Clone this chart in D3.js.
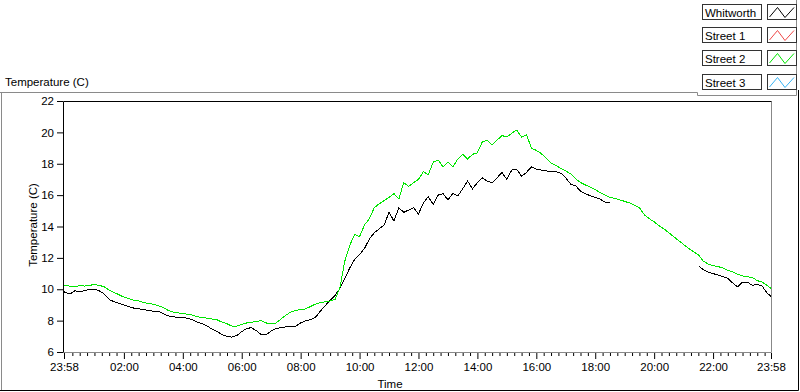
<!DOCTYPE html>
<html>
<head>
<meta charset="utf-8">
<script src="https://cdn.jsdelivr.net/npm/d3@7"></script>
<style>
body { margin: 0; background: #fff; }
svg { font-family: "Liberation Sans", Arial, sans-serif; font-size: 11.5px; }
</style>
</head>
<body>
<svg class="chart" width="800" height="392"></svg>
<script>
const seriesNames = ['Whitworth', 'Street 1', 'Street 2', 'Street 3'];
const seriesColors = ['#000000', '#f04848', '#00e600', '#38b4f4'];

const yTicks = [6, 8, 10, 12, 14, 16, 18, 20, 22];
const xTickLabels = ['23:58', '02:00', '04:00', '06:00', '08:00', '10:00', '12:00',
    '14:00', '16:00', '18:00', '20:00', '22:00', '23:58'];

// samples: 23:58 the day before, every 10 min from 00:00 to 23:50, then 23:58
const whitworth = [9.9,
    9.8, 9.7, 9.9, 9.85, 9.9, 10.0,
    10.0, 9.9, 9.7, 9.35, 9.2, 9.1,
    9.0, 8.9, 8.8, 8.75, 8.7, 8.65,
    8.6, 8.6, 8.45, 8.3, 8.25, 8.2,
    8.2, 8.15, 8.05, 7.9, 7.8, 7.65,
    7.45, 7.3, 7.1, 7.0, 6.95, 7.05,
    7.3, 7.5, 7.55, 7.35, 7.1, 7.1,
    7.35, 7.5, 7.55, 7.6, 7.6, 7.65,
    7.85, 8.0, 8.05, 8.2, 8.6, 8.95,
    9.3, 9.6, 10.05, 10.7, 11.35, 11.9,
    12.2, 12.6, 13.2, 13.6, 13.85, 14.1,
    14.9, 14.35, 15.2, 14.9, 15.05, 15.2,
    14.8, 15.5, 15.9, 15.4, 16.0, 16.1,
    15.7, 16.1, 15.95, 16.4, 16.9, 16.4,
    16.8, 17.1, 16.9, 16.8, 17.1, 17.45,
    17.0, 17.6, 17.65, 17.2, 17.45, 17.8,
    17.65, 17.6, 17.55, 17.5, 17.5, 17.4,
    17.1, 16.7, 16.6, 16.25, 16.1, 15.95,
    15.85, 15.75, 15.55, 15.5, null, null,
    null, null, null, null, null, null,
    null, null, null, null, null, null,
    null, null, null, 11.5, 11.25, 11.1,
    11.0, 10.9, 10.8, 10.7, 10.4, 10.15,
    10.45, 10.45, 10.25, 10.3, 10.2, 9.75,
    9.55];

const street1 = [];

const street2 = [10.25,
    10.25, 10.2, 10.15, 10.25, 10.2, 10.25,
    10.3, 10.25, 10.15, 9.95, 9.8, 9.65,
    9.5, 9.4, 9.3, 9.25, 9.15, 9.1,
    9.05, 8.95, 8.85, 8.65, 8.55, 8.5,
    8.45, 8.4, 8.35, 8.25, 8.2, 8.15,
    8.1, 8.05, 7.9, 7.8, 7.65, 7.65,
    7.75, 7.85, 7.9, 7.95, 8.0, 7.85,
    7.8, 7.85, 8.1, 8.35, 8.55, 8.65,
    8.7, 8.75, 8.9, 9.05, 9.15, 9.2,
    9.25, 9.35, 10.1, 11.8, 12.8, 13.5,
    13.35, 14.1, 14.5, 15.2, 15.45, 15.65,
    15.85, 16.1, 15.75, 16.8, 16.55, 16.8,
    17.0, 17.5, 17.3, 18.1, 18.25, 17.8,
    18.1, 17.8, 18.3, 18.6, 18.3, 18.6,
    18.7, 19.4, 19.5, 19.2, 19.5, 19.8,
    19.7, 19.95, 20.15, 19.7, 19.85, 19.0,
    18.85, 18.65, 18.35, 18.05, 17.9, 17.7,
    17.55, 17.35, 17.05, 16.8, 16.65, 16.5,
    16.35, 16.15, 16.0, 15.85, 15.8, 15.7,
    15.6, 15.5, 15.35, 15.2, 14.75, 14.5,
    14.3, 14.05, 13.85, 13.6, 13.35, 13.1,
    12.85, 12.6, 12.4, 12.2, 11.8, 11.6,
    11.5, 11.45, 11.35, 11.2, 11.1, 10.95,
    10.85, 10.8, 10.75, 10.55, 10.45, 10.25,
    10.05];

const street3 = [];

const chart = d3.select('.chart');

const margin = { left: 64, top: 101, right: 28, bottom: 40 };
const plotWidth = 800 - margin.left - margin.right;
const plotHeight = 392 - margin.top - margin.bottom;

const start = new Date(2014, 0, 1, 23, 58);
const end = new Date(2014, 0, 2, 23, 58);
const times = [start]
    .concat(d3.timeMinute.every(10).range(new Date(2014, 0, 2, 0, 0), end))
    .concat([end]);

const x = d3.scaleTime()
    .domain([start, end])
    .range([0, plotWidth - 1]);

const y = d3.scaleLinear()
    .domain([6, 22])
    .range([plotHeight, 0]);

// outer panel
const frame = chart.append('g').attr('fill', 'none');
frame.append('path').attr('stroke', '#8a8a8a').attr('d', 'M0,92.5H697.5V95.5H796.5V0');
frame.append('path').attr('stroke', '#8a8a8a').attr('d', 'M1.5,92.5V390');
frame.append('path').attr('stroke', '#000').attr('d', 'M0,390.5H798.5V90');

chart.append('text')
    .attr('x', 5)
    .attr('y', 86)
    .text('Temperature (C)');

// plot frame
const g = chart.append('g')
    .attr('transform', `translate(${margin.left} ${margin.top})`);

g.append('rect')
    .attr('width', plotWidth)
    .attr('height', plotHeight)
    .attr('fill', '#fff');

g.append('clipPath')
    .attr('id', 'clip')
    .append('rect')
    .attr('width', plotWidth - 1)
    .attr('height', plotHeight);

const lineGen = d3.line()
    .defined(d => d[1] != null)
    .x(d => x(d[0]))
    .y(d => y(d[1]));

const series = [whitworth, street1, street2, street3];
series.forEach((vals, i) => {
    if (!vals.length) return;
    g.append('path')
        .datum(times.map((t, k) => [t, vals[k]]))
        .attr('clip-path', 'url(#clip)')
        .attr('fill', 'none')
        .attr('stroke', seriesColors[i])
        .attr('stroke-width', 1)
        .attr('shape-rendering', 'crispEdges')
        .attr('d', lineGen);
});

g.append('path')
    .attr('fill', 'none')
    .attr('stroke', '#888')
    .attr('d', `M-0.5,${plotHeight + 0.5}H${plotWidth - 0.5}V0.5`);
g.append('path')
    .attr('fill', 'none')
    .attr('stroke', '#000')
    .attr('d', `M-0.5,${plotHeight + 0.5}V0.5H${plotWidth - 0.5}`);

// axes
const yAxisG = chart.append('g')
    .attr('transform', `translate(${margin.left - 1} ${margin.top})`)
    .call(d3.axisLeft(y).tickValues(yTicks).tickSize(6).tickPadding(3));
yAxisG.select('.domain').remove();

const majorTimes = [start].concat(d3.range(1, 12).map(k => new Date(2014, 0, 2, k * 2, 0))).concat([end]);
const minorTimes = d3.timeMinute.every(15)
    .range(new Date(2014, 0, 2, 0, 15), new Date(2014, 0, 2, 23, 50))
    .filter(d => !(d.getMinutes() === 0 && d.getHours() % 2 === 0));

const xAxisG = chart.append('g')
    .attr('transform', `translate(${margin.left} ${margin.top + plotHeight + 1})`)
    .call(d3.axisBottom(x).tickValues(majorTimes).tickSize(6).tickPadding(4)
        .tickFormat((d, i) => xTickLabels[i]));
xAxisG.select('.domain').remove();

const xMinorG = chart.append('g')
    .attr('transform', `translate(${margin.left} ${margin.top + plotHeight + 1})`)
    .call(d3.axisBottom(x).tickValues(minorTimes).tickSize(3).tickFormat(''));
xMinorG.select('.domain').remove();

chart.selectAll('.tick text')
    .attr('font-family', '"Liberation Sans", Arial, sans-serif')
    .attr('font-size', '11.5px')
    .attr('fill', '#000');

chart.append('text')
    .attr('x', 390)
    .attr('y', 388)
    .attr('text-anchor', 'middle')
    .text('Time');

chart.append('text')
    .attr('transform', 'translate(37 225) rotate(-90)')
    .attr('text-anchor', 'middle')
    .text('Temperature (C)');

// legend
const rowTops = [4, 27, 50, 74];
const legend = chart.append('g')
    .selectAll('g')
    .data(seriesNames)
    .enter()
    .append('g')
    .attr('transform', (d, i) => `translate(702 ${rowTops[i]})`);

legend.append('rect')
    .attr('x', 0.5)
    .attr('y', 0.5)
    .attr('width', 59)
    .attr('height', 15)
    .attr('fill', '#fff')
    .attr('stroke', '#333');

legend.append('text')
    .attr('x', 3)
    .attr('y', 12.5)
    .text(d => d);

legend.append('rect')
    .attr('x', 65.5)
    .attr('y', 0.5)
    .attr('width', 29)
    .attr('height', 15)
    .attr('fill', '#fff')
    .attr('stroke', '#333');

legend.append('path')
    .attr('fill', 'none')
    .attr('stroke', (d, i) => seriesColors[i])
    .attr('d', 'M67.5,13L75.5,3.5L83,13.5L92,3.5');
</script>
</body>
</html>
